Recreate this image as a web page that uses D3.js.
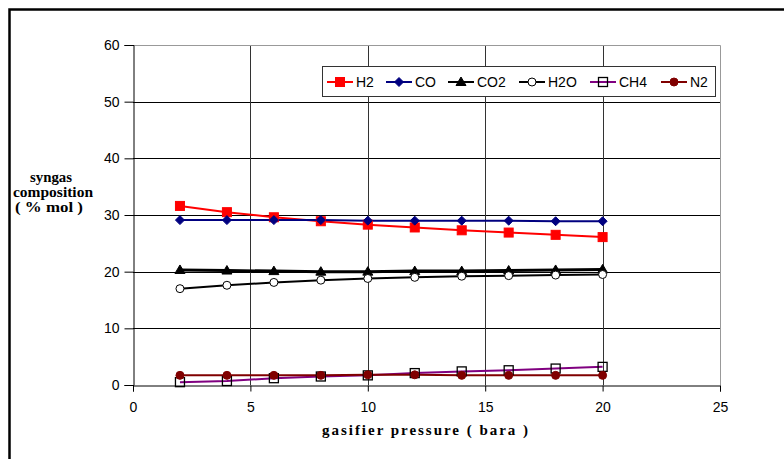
<!DOCTYPE html>
<html>
<head>
<meta charset="utf-8">
<script src="https://cdn.jsdelivr.net/npm/d3@7"></script>
<style>
  html, body { margin: 0; padding: 0; background: #fff; }
  svg { display: block; }
  .tick text { font-family: "Liberation Sans", Arial, sans-serif; font-size: 14px; fill: #000; }
  .title { font-family: "Liberation Serif", "Times New Roman", serif; font-weight: bold; font-size: 15px; }
</style>
</head>
<body>
<svg id="chart" width="784" height="459"></svg>
<script>
/* global d3 */
const pressure = [2, 4, 6, 8, 10, 12, 14, 16, 18, 20];
const h2  = [31.6, 30.5, 29.6, 28.9, 28.3, 27.8, 27.3, 26.9, 26.5, 26.1];
const co  = [29.1, 29.1, 29.1, 29.1, 29.0, 29.0, 29.0, 29.0, 28.9, 28.9];
const co2 = [20.3, 20.2, 20.1, 20.0, 20.0, 20.1, 20.1, 20.2, 20.3, 20.4];
const h2o = [17.0, 17.6, 18.1, 18.5, 18.8, 19.0, 19.2, 19.3, 19.4, 19.5];
const ch4 = [0.5, 0.7, 1.2, 1.5, 1.7, 2.1, 2.4, 2.6, 2.9, 3.2];
const n2  = [1.7, 1.7, 1.7, 1.7, 1.8, 1.8, 1.7, 1.7, 1.7, 1.7];
const xTicks = [0, 5, 10, 15, 20, 25];
const yTicks = [0, 10, 20, 30, 40, 50, 60];

const series = [
    { name: 'H2',  values: h2,  line: '#ff0000', marker: 'square',   fill: '#ff0000', stroke: '#ff0000', width: 2 },
    { name: 'CO',  values: co,  line: '#000080', marker: 'diamond',  fill: '#000080', stroke: '#000080', width: 2 },
    { name: 'CO2', values: co2, line: '#000000', marker: 'triangle', fill: '#000000', stroke: '#000000', width: 3 },
    { name: 'H2O', values: h2o, line: '#000000', marker: 'circle',   fill: '#ffffff', stroke: '#000000', width: 2 },
    { name: 'CH4', values: ch4, line: '#800080', marker: 'square',   fill: 'none',    stroke: '#000000', width: 2 },
    { name: 'N2',  values: n2,  line: '#800000', marker: 'circle',   fill: '#800000', stroke: '#800000', width: 2 },
];

const svg = d3.select('#chart');

// outer frame (clipped on right and bottom like the source)
svg.append('path')
    .attr('d', 'M9.5,460 L9.5,9.5 L790,9.5')
    .attr('fill', 'none').attr('stroke', '#000').attr('stroke-width', 2.5);

const plotL = 133, plotR = 720, plotT = 45, plotB = 385;
const x = d3.scaleLinear().domain([0, 25]).range([plotL, plotR]);
const y = d3.scaleLinear().domain([0, 60]).range([plotB, plotT]);

// gridlines
svg.append('g').selectAll('line')
    .data(yTicks.filter(t => t > 0 && t < 60))
    .enter().append('line')
    .attr('x1', plotL).attr('x2', plotR)
    .attr('y1', d => Math.round(y(d)) + 0.5).attr('y2', d => Math.round(y(d)) + 0.5)
    .attr('stroke', '#000').attr('stroke-width', 1);
svg.append('g').selectAll('line')
    .data(xTicks.filter(t => t > 0 && t < 25))
    .enter().append('line')
    .attr('y1', plotT).attr('y2', plotB)
    .attr('x1', d => Math.round(x(d)) + 0.5).attr('x2', d => Math.round(x(d)) + 0.5)
    .attr('stroke', '#333').attr('stroke-width', 1);

// top & right plot border in gray
svg.append('path')
    .attr('d', `M${plotL},${plotT + 0.5} L${plotR + 0.5},${plotT + 0.5} L${plotR + 0.5},${plotB}`)
    .attr('fill', 'none').attr('stroke', '#999').attr('stroke-width', 1);

// axes
const xAxis = svg.append('g')
    .attr('transform', `translate(0,${plotB + 0.5})`)
    .call(d3.axisBottom(x).tickValues(xTicks).tickSize(6).tickPadding(11));
const yAxis = svg.append('g')
    .attr('transform', `translate(${plotL + 0.5},0)`)
    .call(d3.axisLeft(y).tickValues(yTicks).tickSize(9).tickPadding(5));
[xAxis, yAxis].forEach(a => {
    a.select('.domain').attr('stroke', '#000');
    a.selectAll('.tick line').attr('stroke', '#000');
    a.attr('font-size', null).attr('font-family', null);
});

// series lines
const line = d3.line().x((d, i) => x(pressure[i])).y(d => y(d));
const linesG = svg.append('g');
const marksG = svg.append('g');

function drawMarker(g, type, cx, cy, s) {
    let el;
    if (type === 'square') {
        el = g.append('rect').attr('x', cx - 4.5).attr('y', cy - 4.5).attr('width', 9).attr('height', 9);
    } else if (type === 'diamond') {
        el = g.append('path').attr('d', `M${cx},${cy - 4.5} L${cx + 4.5},${cy} L${cx},${cy + 4.5} L${cx - 4.5},${cy} Z`);
    } else if (type === 'triangle') {
        el = g.append('path').attr('d', `M${cx},${cy - 5} L${cx + 5},${cy + 3.5} L${cx - 5},${cy + 3.5} Z`);
    } else {
        el = g.append('circle').attr('cx', cx).attr('cy', cy).attr('r', 4);
    }
    const open = s.marker === 'square' && s.fill === 'none';
    el.attr('fill', s.fill).attr('stroke', s.stroke).attr('stroke-width', open ? 1.3 : 1);
    return el;
}

series.forEach(s => {
    linesG.append('path')
        .datum(s.values)
        .attr('d', line)
        .attr('fill', 'none')
        .attr('stroke', s.line)
        .attr('stroke-width', s.width);
    s.values.forEach((v, i) => drawMarker(marksG, s.marker, x(pressure[i]), y(v), s));
});

// legend
const legend = svg.append('g');
legend.append('rect')
    .attr('x', 322.5).attr('y', 66.5).attr('width', 393).attr('height', 30)
    .attr('fill', '#fff').attr('stroke', '#333').attr('stroke-width', 1);
const legendX = [327, 386, 448, 519, 590, 661];
series.forEach((s, i) => {
    const lx = legendX[i], ly = 82;
    legend.append('line')
        .attr('x1', lx).attr('x2', lx + 26).attr('y1', ly).attr('y2', ly)
        .attr('stroke', s.line).attr('stroke-width', 2);
    drawMarker(legend, s.marker, lx + 13, ly, s);
    legend.append('text')
        .attr('x', lx + 29).attr('y', ly + 5)
        .attr('font-family', '"Liberation Sans", Arial, sans-serif')
        .attr('font-size', '14px')
        .text(s.name);
});

// axis titles
svg.append('text').attr('class', 'title')
    .attr('x', 322).attr('y', 435)
    .attr('textLength', 206).attr('lengthAdjust', 'spacing')
    .text('gasifier pressure ( bara )');
const yTitle = ['syngas', 'composition', '( % mol )'];
const yTitleW = [42, 80, 68];
const yTitleCx = [51, 53, 49];
svg.append('g').selectAll('text')
    .data(yTitle)
    .enter().append('text').attr('class', 'title')
    .attr('x', (d, i) => yTitleCx[i] - yTitleW[i] / 2)
    .attr('y', (d, i) => 182 + i * 15)
    .attr('textLength', (d, i) => yTitleW[i]).attr('lengthAdjust', 'spacingAndGlyphs')
    .text(d => d);
</script>
</body>
</html>
